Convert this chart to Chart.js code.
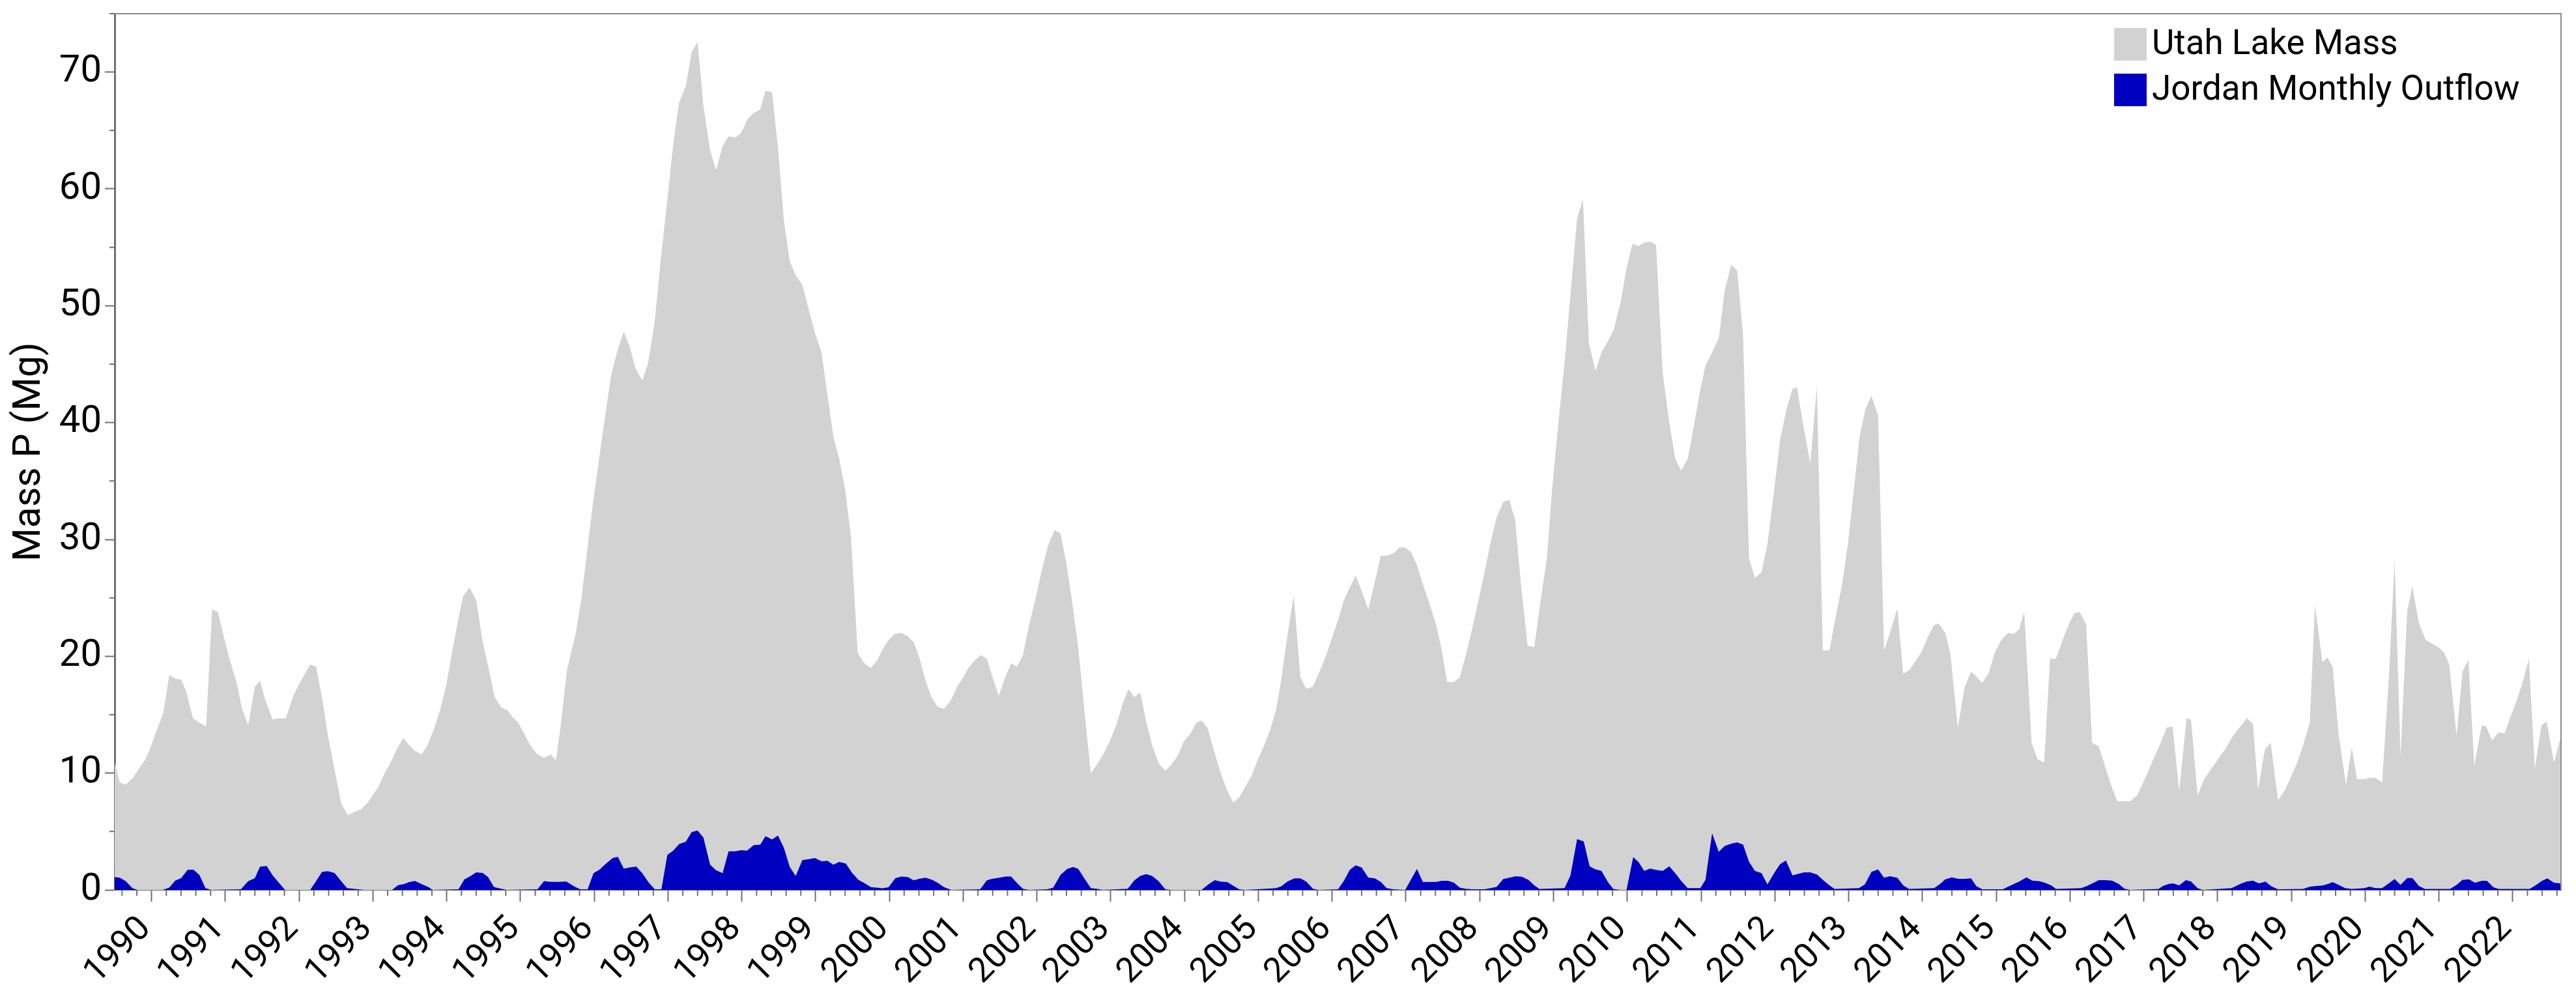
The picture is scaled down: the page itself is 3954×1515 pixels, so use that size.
<!DOCTYPE html>
<html>
<head>
<meta charset="utf-8">
<title>Utah Lake Mass and Jordan Monthly Outflow</title>
<script src="https://cdn.jsdelivr.net/npm/chart.js@4.4.0/dist/chart.umd.min.js"></script>
<style>
  html, body { margin: 0; padding: 0; background: #fff; }
  #chart { display: block; }
</style>
</head>
<body>
<canvas id="chart" width="3954" height="1515"></canvas>
<script>
// Utah Lake phosphorus mass (Mg)
const lakeYears = [
  1989.50, 1989.57, 1989.65, 1989.75, 1989.83, 1989.91, 1989.98,
  1990.06, 1990.16, 1990.24, 1990.32, 1990.40, 1990.47, 1990.56, 1990.65, 1990.74, 1990.82, 1990.90, 1990.97,
  1991.06, 1991.15, 1991.23, 1991.31, 1991.40, 1991.47, 1991.54, 1991.64, 1991.74, 1991.82, 1991.92, 1991.99,
  1992.07, 1992.15, 1992.23, 1992.31, 1992.39, 1992.49, 1992.57, 1992.66, 1992.76, 1992.84, 1992.92,
  1993.00, 1993.08, 1993.16, 1993.24, 1993.32, 1993.41, 1993.49, 1993.57, 1993.66, 1993.74, 1993.83, 1993.91, 1993.99,
  1994.06, 1994.14, 1994.22, 1994.31, 1994.40, 1994.48, 1994.57, 1994.65, 1994.74, 1994.82, 1994.89, 1994.97,
  1995.05, 1995.13, 1995.23, 1995.32, 1995.41, 1995.48, 1995.54, 1995.63, 1995.75, 1995.83, 1995.91, 1995.99,
  1996.07, 1996.15, 1996.23, 1996.32, 1996.40, 1996.48, 1996.56, 1996.65, 1996.73, 1996.82, 1996.90, 1996.98,
  1997.07, 1997.15, 1997.24, 1997.32, 1997.40, 1997.48, 1997.57, 1997.65, 1997.74, 1997.82, 1997.91, 1997.99,
  1998.08, 1998.16, 1998.25, 1998.32, 1998.41, 1998.49, 1998.57, 1998.65, 1998.73, 1998.82, 1998.91, 1998.99,
  1999.08, 1999.16, 1999.24, 1999.32, 1999.40, 1999.48, 1999.57, 1999.66, 1999.75, 1999.83, 1999.91, 1999.99,
  2000.07, 2000.16, 2000.25, 2000.33, 2000.41, 2000.49, 2000.57, 2000.65, 2000.74, 2000.83, 2000.92,
  2001.00, 2001.07, 2001.15, 2001.24, 2001.32, 2001.40, 2001.48, 2001.57, 2001.65, 2001.73, 2001.81, 2001.89, 2001.98,
  2002.06, 2002.15, 2002.24, 2002.32, 2002.40, 2002.48, 2002.56, 2002.65, 2002.73, 2002.81, 2002.89, 2002.99,
  2003.08, 2003.16, 2003.24, 2003.32, 2003.40, 2003.48, 2003.56, 2003.65, 2003.74, 2003.82, 2003.91, 2003.99,
  2004.07, 2004.16, 2004.23, 2004.31, 2004.39, 2004.47, 2004.57, 2004.66, 2004.74, 2004.82, 2004.91, 2004.99,
  2005.08, 2005.16, 2005.24, 2005.31, 2005.39, 2005.48, 2005.57, 2005.65, 2005.74, 2005.83, 2005.92,
  2006.00, 2006.09, 2006.16, 2006.24, 2006.32, 2006.40, 2006.49, 2006.58, 2006.66, 2006.74, 2006.83, 2006.91, 2006.99,
  2007.07, 2007.15, 2007.23, 2007.32, 2007.41, 2007.48, 2007.56, 2007.65, 2007.73, 2007.82, 2007.90, 2007.98,
  2008.06, 2008.15, 2008.23, 2008.32, 2008.40, 2008.48, 2008.56, 2008.65, 2008.74, 2008.82, 2008.91, 2008.98,
  2009.06, 2009.15, 2009.23, 2009.32, 2009.40, 2009.48, 2009.57, 2009.65, 2009.74, 2009.82, 2009.91, 2009.99,
  2010.07, 2010.15, 2010.23, 2010.31, 2010.39, 2010.48, 2010.56, 2010.65, 2010.73, 2010.82, 2010.90, 2010.98,
  2011.06, 2011.15, 2011.24, 2011.32, 2011.41, 2011.49, 2011.57, 2011.65, 2011.73, 2011.82, 2011.90, 2011.99,
  2012.07, 2012.16, 2012.24, 2012.30, 2012.39, 2012.48, 2012.57, 2012.65, 2012.74, 2012.81, 2012.91, 2012.99,
  2013.07, 2013.15, 2013.23, 2013.31, 2013.40, 2013.48, 2013.56, 2013.66, 2013.74, 2013.82, 2013.90, 2013.99,
  2014.07, 2014.16, 2014.22, 2014.31, 2014.38, 2014.48, 2014.57, 2014.66, 2014.74, 2014.81, 2014.90, 2014.98,
  2015.07, 2015.16, 2015.24, 2015.31, 2015.38, 2015.48, 2015.56, 2015.65, 2015.73, 2015.81, 2015.89, 2015.98,
  2016.06, 2016.13, 2016.22, 2016.30, 2016.39, 2016.46, 2016.55, 2016.64, 2016.73, 2016.82, 2016.91,
  2017.00, 2017.11, 2017.23, 2017.31, 2017.39, 2017.48, 2017.58, 2017.64, 2017.73, 2017.82, 2017.92,
  2018.02, 2018.11, 2018.21, 2018.31, 2018.40, 2018.48, 2018.55, 2018.64, 2018.72, 2018.82, 2018.91, 2018.99,
  2019.08, 2019.16, 2019.25, 2019.32, 2019.42, 2019.49, 2019.56, 2019.64, 2019.74, 2019.82, 2019.89, 2019.99,
  2020.07, 2020.14, 2020.23, 2020.32, 2020.40, 2020.48, 2020.57, 2020.64, 2020.73, 2020.82, 2020.93,
  2021.01, 2021.07, 2021.14, 2021.24, 2021.32, 2021.40, 2021.48, 2021.58, 2021.64, 2021.72, 2021.81, 2021.89, 2021.98,
  2022.06, 2022.15, 2022.22, 2022.30, 2022.39, 2022.46, 2022.56, 2022.655
];
const lakeMass = [
  10.9, 9.2, 9.0, 9.6, 10.4, 11.1, 12.1,
  13.5, 15.2, 18.4, 18.1, 18.0, 17.0, 14.7, 14.3, 14.0, 24.0, 23.8, 21.9,
  19.7, 17.8, 15.4, 14.1, 17.4, 17.9, 16.3, 14.6, 14.7, 14.7, 16.6, 17.5,
  18.4, 19.3, 19.1, 16.5, 13.2, 10.0, 7.4, 6.4, 6.7, 6.9, 7.4,
  8.1, 8.9, 10.0, 10.9, 12.0, 13.0, 12.4, 11.9, 11.6, 12.4, 13.8, 15.4, 17.4,
  19.9, 22.6, 25.1, 25.9, 24.8, 21.5, 18.9, 16.5, 15.6, 15.4, 14.8, 14.3,
  13.4, 12.4, 11.6, 11.3, 11.6, 11.1, 13.8, 18.8, 22.0, 25.1, 29.4, 33.5,
  37.1, 40.7, 44.1, 46.3, 47.8, 46.5, 44.6, 43.6, 45.1, 48.7, 53.9, 58.5,
  63.8, 67.4, 68.8, 71.7, 72.6, 67.1, 63.3, 61.6, 63.7, 64.5, 64.4, 64.8,
  66.0, 66.5, 66.8, 68.4, 68.3, 63.5, 57.3, 53.8, 52.6, 51.8, 49.6, 47.7,
  46.0, 42.4, 38.8, 36.9, 34.3, 30.2, 20.3, 19.4, 19.0, 19.6, 20.6, 21.4,
  21.9, 22.0, 21.7, 21.2, 19.8, 17.9, 16.5, 15.7, 15.5, 16.2, 17.4,
  18.2, 19.0, 19.6, 20.1, 19.8, 18.2, 16.6, 18.2, 19.4, 19.1, 20.1, 22.6, 24.9,
  27.2, 29.5, 30.8, 30.5, 27.9, 24.5, 20.7, 14.9, 10.0, 10.7, 11.5, 12.8,
  14.2, 15.9, 17.2, 16.5, 16.9, 14.4, 12.4, 10.8, 10.2, 10.7, 11.5, 12.7,
  13.3, 14.3, 14.5, 13.9, 12.1, 10.4, 8.6, 7.5, 7.9, 8.8, 9.8, 11.1,
  12.4, 13.7, 15.4, 18.0, 21.6, 25.2, 18.2, 17.2, 17.4, 18.7, 20.1,
  21.6, 23.3, 24.8, 25.9, 26.9, 25.6, 24.0, 26.4, 28.6, 28.6, 28.8, 29.3, 29.3,
  28.9, 27.8, 26.2, 24.5, 22.7, 20.7, 17.8, 17.8, 18.2, 20.3, 22.4, 24.7,
  27.0, 29.8, 31.9, 33.2, 33.4, 31.7, 26.1, 20.9, 20.8, 24.5, 28.4, 34.2,
  39.6, 45.1, 50.9, 57.5, 59.1, 46.8, 44.4, 46.0, 47.0, 48.0, 50.3, 53.2,
  55.3, 55.1, 55.4, 55.5, 55.2, 44.3, 40.4, 36.9, 35.9, 36.9, 39.6, 42.5,
  44.9, 46.0, 47.2, 51.3, 53.5, 53.0, 47.4, 28.4, 26.7, 27.2, 29.6, 34.2,
  38.5, 41.2, 42.9, 43.0, 39.6, 36.5, 43.1, 20.5, 20.5, 22.9, 26.1, 29.6,
  34.2, 38.9, 41.2, 42.3, 40.6, 20.5, 22.0, 24.1, 18.5, 18.8, 19.5, 20.4,
  21.6, 22.7, 22.8, 22.0, 20.2, 13.9, 17.3, 18.7, 18.2, 17.7, 18.6, 20.3,
  21.4, 22.0, 21.9, 22.3, 23.8, 12.6, 11.2, 10.9, 19.8, 19.8, 21.2, 22.7,
  23.7, 23.8, 22.7, 12.6, 12.3, 10.9, 9.1, 7.6, 7.6, 7.6, 8.1,
  9.3, 10.9, 12.6, 13.9, 14.0, 8.5, 14.7, 14.6, 8.1, 9.5, 10.4,
  11.3, 12.1, 13.2, 14.0, 14.7, 14.2, 8.6, 12.0, 12.6, 7.7, 8.5, 9.6,
  10.9, 12.4, 14.3, 24.4, 19.5, 19.9, 19.1, 13.4, 9.0, 12.2, 9.5, 9.5,
  9.6, 9.6, 9.2, 18.0, 28.2, 11.5, 23.8, 26.0, 22.8, 21.4, 21.0,
  20.7, 20.3, 19.3, 13.2, 18.7, 19.7, 10.6, 14.1, 14.0, 12.8, 13.5, 13.4, 15.0,
  16.3, 18.1, 19.8, 10.4, 14.1, 14.4, 10.9, 13.2
];

// Jordan River monthly outflow mass (Mg)
const outflowYears = [
  1989.50, 1989.57, 1989.65, 1989.74, 1989.81,
  1990.15, 1990.24, 1990.32, 1990.40, 1990.49, 1990.57, 1990.65, 1990.73, 1990.81,
  1991.21, 1991.31, 1991.40, 1991.47, 1991.56, 1991.65, 1991.81,
  1992.15, 1992.23, 1992.31, 1992.39, 1992.48, 1992.57, 1992.65, 1992.80, 1992.88,
  1993.26, 1993.34, 1993.42, 1993.49, 1993.57, 1993.66, 1993.75, 1993.81,
  1994.16, 1994.24, 1994.32, 1994.40, 1994.49, 1994.56, 1994.64, 1994.74, 1994.82,
  1995.23, 1995.32, 1995.40, 1995.52, 1995.62, 1995.73, 1995.81, 1995.91, 1995.99,
  1996.07, 1996.15, 1996.25, 1996.32, 1996.40, 1996.48, 1996.57, 1996.65, 1996.74, 1996.82, 1996.91, 1996.99,
  1997.07, 1997.15, 1997.24, 1997.32, 1997.40, 1997.48, 1997.57, 1997.65, 1997.74, 1997.82, 1997.91, 1997.99,
  1998.07, 1998.16, 1998.25, 1998.32, 1998.41, 1998.49, 1998.57, 1998.65, 1998.73, 1998.82, 1998.91, 1998.99,
  1999.08, 1999.16, 1999.24, 1999.32, 1999.41, 1999.49, 1999.58, 1999.66, 1999.75, 1999.83, 1999.91, 1999.99,
  2000.08, 2000.16, 2000.25, 2000.33, 2000.41, 2000.49, 2000.58, 2000.66, 2000.74, 2000.84,
  2001.23, 2001.32, 2001.40, 2001.49, 2001.57, 2001.65, 2001.73, 2001.81, 2001.89,
  2002.14, 2002.22, 2002.32, 2002.41, 2002.49, 2002.56, 2002.65, 2002.73, 2002.81, 2002.89,
  2003.23, 2003.32, 2003.40, 2003.48, 2003.56, 2003.65, 2003.74, 2003.82,
  2004.23, 2004.32, 2004.41, 2004.49, 2004.58, 2004.66, 2004.74, 2004.82,
  2005.10, 2005.24, 2005.31, 2005.40, 2005.49, 2005.57, 2005.65, 2005.74, 2005.82,
  2006.08, 2006.16, 2006.24, 2006.32, 2006.40, 2006.49, 2006.58, 2006.66, 2006.74, 2006.83, 2006.99,
  2007.07, 2007.15, 2007.23, 2007.32, 2007.41, 2007.48, 2007.57, 2007.65, 2007.73, 2007.81, 2007.90,
  2008.06, 2008.15, 2008.23, 2008.32, 2008.40, 2008.49, 2008.57, 2008.66, 2008.74, 2008.81,
  2009.15, 2009.23, 2009.32, 2009.41, 2009.49, 2009.57, 2009.65, 2009.74, 2009.81, 2009.91, 2009.99,
  2010.08, 2010.15, 2010.23, 2010.31, 2010.39, 2010.48, 2010.57, 2010.65, 2010.73, 2010.82, 2010.99,
  2011.06, 2011.15, 2011.24, 2011.32, 2011.41, 2011.49, 2011.57, 2011.65, 2011.73, 2011.82, 2011.90, 2011.99,
  2012.07, 2012.15, 2012.24, 2012.31, 2012.40, 2012.48, 2012.57, 2012.65, 2012.74, 2012.81,
  2013.14, 2013.22, 2013.31, 2013.40, 2013.48, 2013.56, 2013.66, 2013.74, 2013.82,
  2014.16, 2014.24, 2014.31, 2014.40, 2014.49, 2014.57, 2014.66, 2014.73, 2014.81,
  2015.09, 2015.18, 2015.31, 2015.41, 2015.49, 2015.58, 2015.66, 2015.75, 2015.81,
  2016.15, 2016.23, 2016.32, 2016.39, 2016.49, 2016.57, 2016.66, 2016.74, 2016.82,
  2017.20, 2017.26, 2017.34, 2017.40, 2017.48, 2017.57, 2017.64, 2017.73, 2017.80,
  2018.19, 2018.31, 2018.39, 2018.48, 2018.56, 2018.65, 2018.73, 2018.82,
  2019.16, 2019.25, 2019.33, 2019.42, 2019.50, 2019.56, 2019.64, 2019.73, 2019.82, 2019.99,
  2020.06, 2020.14, 2020.23, 2020.32, 2020.40, 2020.48, 2020.57, 2020.64, 2020.73, 2020.81,
  2021.15, 2021.24, 2021.32, 2021.41, 2021.49, 2021.58, 2021.65, 2021.74, 2021.81,
  2022.23, 2022.32, 2022.39, 2022.47, 2022.56, 2022.655
];
const outflowMass = [
  1.10, 1.05, 0.75, 0.15, 0,
  0, 0.20, 0.80, 1.00, 1.73, 1.73, 1.27, 0.15, 0,
  0.05, 0.75, 1.00, 2.00, 2.05, 1.17, 0,
  0, 0.75, 1.55, 1.60, 1.45, 0.75, 0.15, 0.05, 0,
  0, 0.40, 0.50, 0.67, 0.76, 0.50, 0.25, 0,
  0.05, 0.90, 1.17, 1.50, 1.45, 1.10, 0.25, 0.10, 0,
  0.05, 0.75, 0.70, 0.68, 0.72, 0.29, 0.05, 0.05, 1.44,
  1.73, 2.20, 2.73, 2.83, 1.82, 1.92, 2.00, 1.44, 0.62, 0.05, 0.05, 3.00,
  3.36, 3.93, 4.13, 4.95, 5.09, 4.47, 2.16, 1.68, 1.44, 3.31, 3.31, 3.40,
  3.36, 3.84, 3.88, 4.60, 4.32, 4.65, 3.60, 1.97, 1.20, 2.55, 2.64, 2.73,
  2.45, 2.50, 2.16, 2.40, 2.26, 1.49, 0.87, 0.58, 0.24, 0.19, 0.14, 0.24,
  1.00, 1.15, 1.10, 0.82, 0.96, 1.05, 0.87, 0.58, 0.24, 0,
  0.05, 0.82, 0.96, 1.05, 1.15, 1.15, 0.58, 0.10, 0,
  0.05, 0.20, 1.30, 1.80, 1.96, 1.80, 0.90, 0.15, 0.10, 0,
  0.10, 0.82, 1.20, 1.35, 1.20, 0.74, 0.05, 0,
  0, 0.46, 0.84, 0.71, 0.67, 0.36, 0.05, 0,
  0.10, 0.15, 0.30, 0.74, 0.99, 0.99, 0.71, 0.10, 0,
  0.05, 0.78, 1.73, 2.10, 1.92, 1.06, 0.99, 0.68, 0.15, 0.05, 0,
  0.90, 1.80, 0.68, 0.68, 0.68, 0.78, 0.78, 0.63, 0.20, 0.10, 0.05,
  0.05, 0.16, 0.27, 0.94, 1.05, 1.17, 1.13, 0.86, 0.39, 0.08,
  0.16, 1.24, 4.35, 4.15, 2.02, 1.75, 1.63, 0.66, 0.08, 0, 0,
  2.80, 2.41, 1.63, 1.83, 1.71, 1.63, 2.02, 1.44, 0.78, 0.16, 0.16,
  0.86, 4.85, 3.26, 3.76, 3.96, 4.07, 3.88, 2.41, 1.63, 1.44, 0.47, 1.44,
  2.20, 2.52, 1.24, 1.36, 1.51, 1.51, 1.32, 0.86, 0.39, 0.08,
  0.16, 0.47, 1.55, 1.75, 1.05, 1.17, 1.05, 0.39, 0.08,
  0.15, 0.52, 0.90, 1.08, 0.95, 0.95, 0.99, 0.34, 0.06,
  0.06, 0.34, 0.71, 1.08, 0.80, 0.75, 0.62, 0.38, 0.08,
  0.15, 0.34, 0.62, 0.84, 0.84, 0.80, 0.52, 0.10, 0,
  0.08, 0.34, 0.52, 0.56, 0.39, 0.84, 0.73, 0.15, 0,
  0.15, 0.52, 0.71, 0.80, 0.56, 0.71, 0.30, 0.06,
  0.08, 0.28, 0.34, 0.38, 0.52, 0.67, 0.43, 0.15, 0.08, 0.15,
  0.28, 0.15, 0.15, 0.56, 0.93, 0.43, 1.02, 1.02, 0.34, 0.08,
  0.08, 0.43, 0.86, 0.90, 0.62, 0.78, 0.78, 0.23, 0.08,
  0.08, 0.43, 0.75, 0.99, 0.62, 0.56
];

const yearTicks = [1990, 1991, 1992, 1993, 1994, 1995, 1996, 1997, 1998, 1999, 2000,
  2001, 2002, 2003, 2004, 2005, 2006, 2007, 2008, 2009, 2010, 2011,
  2012, 2013, 2014, 2015, 2016, 2017, 2018, 2019, 2020, 2021, 2022];
const massTicks = [0, 10, 20, 30, 40, 50, 60, 70];

if (lakeYears.length !== lakeMass.length) console.warn('lake arrays differ', lakeYears.length, lakeMass.length);
if (outflowYears.length !== outflowMass.length) console.warn('outflow arrays differ', outflowYears.length, outflowMass.length);

const FONT = 'Roboto, "Noto Sans", sans-serif';
const AXIS_GRAY = '#707070';

// frame, minor ticks and the legend box in the top right corner
const decorations = {
  id: 'decorations',
  afterDraw(chart) {
    const { ctx, chartArea: a, scales: { x, y } } = chart;
    ctx.save();
    ctx.strokeStyle = '#8c8c8c';
    ctx.lineWidth = 2;
    ctx.beginPath();
    ctx.moveTo(a.left, a.top);
    ctx.lineTo(a.right, a.top);
    ctx.lineTo(a.right, a.bottom);
    ctx.stroke();

    ctx.strokeStyle = AXIS_GRAY;
    ctx.lineWidth = 2;
    ctx.beginPath();
    for (let k = Math.ceil(x.min * 5); k <= Math.floor(x.max * 5); k++) {
      if (k % 5 === 0) continue;
      const px = x.getPixelForValue(k / 5);
      ctx.moveTo(px, a.bottom);
      ctx.lineTo(px, a.bottom + 9);
    }
    for (let v = 5; v <= y.max; v += 10) {
      const py = y.getPixelForValue(v);
      ctx.moveTo(a.left, py);
      ctx.lineTo(a.left - 8, py);
    }
    ctx.stroke();

    // legend
    const boxW = 50, boxH = 50, rowH = 70;
    const left = a.right - 686;
    const top = a.top + 22;
    ctx.font = '53px ' + FONT;
    ctx.textBaseline = 'middle';
    ctx.textAlign = 'left';
    chart.data.datasets.forEach((ds, i) => {
      const ty = top + i * rowH;
      ctx.fillStyle = ds.backgroundColor;
      ctx.fillRect(left, ty, boxW, boxH);
      ctx.fillStyle = '#000';
      ctx.fillText(ds.label, left + boxW + 8, ty + boxH / 2 + 2);
    });
    ctx.restore();
  }
};

new Chart(document.getElementById('chart'), {
  type: 'line',
  data: {
    datasets: [
      {
        label: 'Utah Lake Mass',
        data: lakeYears.map((yr, i) => ({ x: yr, y: lakeMass[i] })),
        fill: 'origin',
        backgroundColor: '#d2d2d2',
        borderColor: 'rgba(0,0,0,0)',
        borderWidth: 1,
        pointRadius: 0,
        tension: 0,
        order: 2
      },
      {
        label: 'Jordan Monthly Outflow',
        data: outflowYears.map((yr, i) => ({ x: yr, y: outflowMass[i] })),
        fill: 'origin',
        backgroundColor: '#0000c0',
        borderColor: 'rgba(0,0,0,0)',
        borderWidth: 1,
        pointRadius: 0,
        tension: 0,
        order: 1
      }
    ]
  },
  options: {
    responsive: false,
    animation: false,
    devicePixelRatio: 1,
    layout: { padding: { top: 21, right: 23, left: 0, bottom: 0 } },
    plugins: {
      legend: { display: false },
      tooltip: { enabled: false }
    },
    scales: {
      x: {
        type: 'linear',
        min: 1989.5,
        max: 2022.655,
        afterBuildTicks: (scale) => { scale.ticks = yearTicks.map(v => ({ value: v })); },
        afterFit: (scale) => { scale.height = 149; scale.paddingLeft = 0; scale.paddingRight = 0; },
        ticks: {
          autoSkip: false,
          minRotation: 45,
          maxRotation: 45,
          padding: 11,
          labelOffset: -9,
          color: '#000',
          font: { family: FONT, size: 53 },
          callback: (v) => String(v)
        },
        grid: { drawOnChartArea: false, drawTicks: true, tickLength: 18, tickColor: AXIS_GRAY, tickWidth: 2 },
        border: { display: true, color: AXIS_GRAY, width: 2 }
      },
      y: {
        min: 0,
        max: 75,
        afterBuildTicks: (scale) => { scale.ticks = massTicks.map(v => ({ value: v })); },
        afterFit: (scale) => { scale.width = 176; scale.paddingTop = 0; scale.paddingBottom = 0; },
        ticks: {
          padding: 5,
          color: '#000',
          font: { family: FONT, size: 58 }
        },
        title: {
          display: true,
          text: 'Mass P (Mg)',
          color: '#000',
          font: { family: FONT, size: 59 },
          padding: { top: 11, bottom: 0 }
        },
        grid: { drawOnChartArea: false, drawTicks: true, tickLength: 15, tickColor: AXIS_GRAY, tickWidth: 2 },
        border: { display: true, color: AXIS_GRAY, width: 3 }
      }
    }
  },
  plugins: [decorations]
});
</script>
</body>
</html>
